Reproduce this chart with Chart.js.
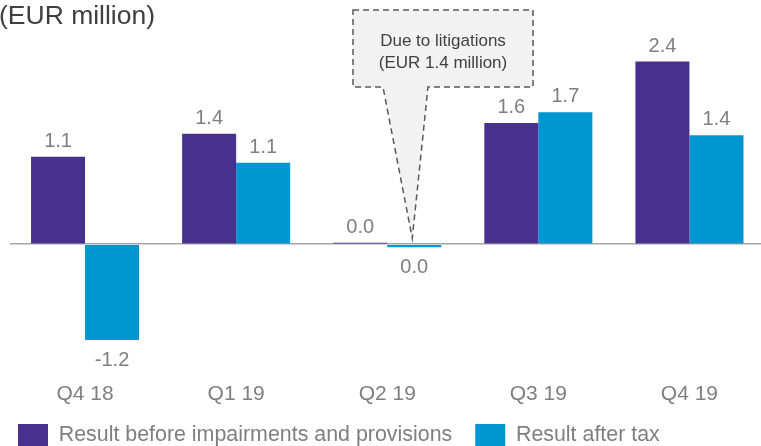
<!DOCTYPE html>
<html>
<head>
<meta charset="utf-8">
<script src="https://cdn.jsdelivr.net/npm/chart.js@4/dist/chart.umd.min.js"></script>
<style>
  html, body { margin: 0; padding: 0; background: #ffffff; overflow: hidden; }
  #wrap { position: relative; width: 765px; height: 457px; }
</style>
</head>
<body>
<div id="wrap"><canvas id="c"></canvas></div>
<script>
const categories = ['Q4 18', 'Q1 19', 'Q2 19', 'Q3 19', 'Q4 19'];
const seriesNames = ['Result before impairments and provisions', 'Result after tax'];
const beforeImpairments = [1.14, 1.44, 0.02, 1.58, 2.38];
const afterTax = [-1.249, 1.06, -0.04, 1.72, 1.42];
const unitTitle = '(EUR million)';
const calloutLines = ['Due to litigations', '(EUR 1.4 million)'];

const PURPLE = '#48308E';
const CYAN = '#0096D2';
const GREY_TEXT = '#7F7F7F';
const FONT = 'Arial, "Liberation Sans", Helvetica, sans-serif';

function fmt(v) {
  return (Math.round(v * 10) / 10).toFixed(1);
}

const titlePlugin = {
  id: 'unitTitle',
  afterDraw(chart) {
    const ctx = chart.ctx;
    ctx.save();
    ctx.font = '26.5px ' + FONT;
    ctx.fillStyle = '#404040';
    ctx.textAlign = 'left';
    ctx.textBaseline = 'alphabetic';
    ctx.fillText(unitTitle, -1, 24);
    ctx.restore();
  }
};

const layoutTweak = {
  id: 'layoutTweak',
  afterLayout(chart) {
    if (chart.legend) {
      chart.legend.left = -5;
    }
    if (chart.scales.x) {
      chart.scales.x.bottom += 20;
    }
  }
};

const valueLabels = {
  id: 'valueLabels',
  afterDatasetsDraw(chart) {
    const ctx = chart.ctx;
    ctx.save();
    ctx.font = '20px ' + FONT;
    ctx.fillStyle = GREY_TEXT;
    ctx.textAlign = 'center';
    ctx.textBaseline = 'alphabetic';
    chart.data.datasets.forEach((ds, di) => {
      const meta = chart.getDatasetMeta(di);
      meta.data.forEach((bar, i) => {
        const v = ds.data[i];
        const base = chart.scales.y.getPixelForValue(0);
        if (v >= 0) {
          ctx.fillText(fmt(v), bar.x, Math.min(bar.y, base - 1) - 10);
        } else {
          ctx.fillText(fmt(v), bar.x, Math.max(bar.y, base + 1) + 26);
        }
      });
    });
    ctx.restore();
  }
};

const callout = {
  id: 'callout',
  afterDraw(chart) {
    const ctx = chart.ctx;
    const bar = chart.getDatasetMeta(1).data[2];
    const tipX = bar.x - 2;
    const tipY = chart.scales.y.getPixelForValue(0) - 6;
    const left = 353, right = 533, top = 10, bottom = 87;
    const pL = 383, pR = 428;
    ctx.save();
    ctx.beginPath();
    ctx.moveTo(left, top);
    ctx.lineTo(right, top);
    ctx.lineTo(right, bottom);
    ctx.lineTo(pR, bottom);
    ctx.lineTo(tipX, tipY);
    ctx.lineTo(pL, bottom);
    ctx.lineTo(left, bottom);
    ctx.closePath();
    ctx.fillStyle = '#F2F2F2';
    ctx.fill();
    ctx.setLineDash([6, 4]);
    ctx.lineWidth = 1.5;
    ctx.strokeStyle = '#595959';
    ctx.stroke();
    ctx.setLineDash([]);
    ctx.font = '17px ' + FONT;
    ctx.fillStyle = '#404040';
    ctx.textAlign = 'center';
    ctx.textBaseline = 'alphabetic';
    const cx = (left + right) / 2;
    ctx.fillText(calloutLines[0], cx, 46);
    ctx.fillText(calloutLines[1], cx, 68);
    ctx.restore();
  }
};

new Chart(document.getElementById('c'), {
  type: 'bar',
  data: {
    labels: categories,
    datasets: [
      { label: seriesNames[0], data: beforeImpairments, backgroundColor: PURPLE, borderWidth: 0 },
      { label: seriesNames[1], data: afterTax, backgroundColor: CYAN, borderWidth: 0 }
    ]
  },
  options: {
    responsive: true,
    maintainAspectRatio: false,
    animation: false,
    events: [],
    layout: { padding: { left: 9.5, right: 0, top: 0, bottom: 0 } },
    datasets: { bar: { categoryPercentage: 0.715, barPercentage: 1.0 } },
    plugins: {
      title: { display: false },
      tooltip: { enabled: false },
      legend: {
        display: true,
        position: 'bottom',
        align: 'start',
        labels: {
          boxWidth: 30,
          boxHeight: 23,
          padding: 23,
          color: GREY_TEXT,
          font: { size: 21.4, family: FONT }
        }
      }
    },
    scales: {
      x: {
        grid: { display: false },
        border: { display: false },
        ticks: { color: GREY_TEXT, font: { size: 21, family: FONT }, padding: 8 },
        afterFit(scale) { scale.height -= 14; }
      },
      y: {
        min: -1.584,
        max: 3.182,
        grid: {
          drawTicks: false,
          color: (c) => (c.tick && c.tick.value === 0 ? '#A6A6A6' : 'rgba(0,0,0,0)'),
          lineWidth: 1.5
        },
        border: { display: false },
        ticks: { display: false, stepSize: 0.01 }
      }
    }
  },
  plugins: [titlePlugin, layoutTweak, valueLabels, callout]
});
</script>
</body>
</html>
